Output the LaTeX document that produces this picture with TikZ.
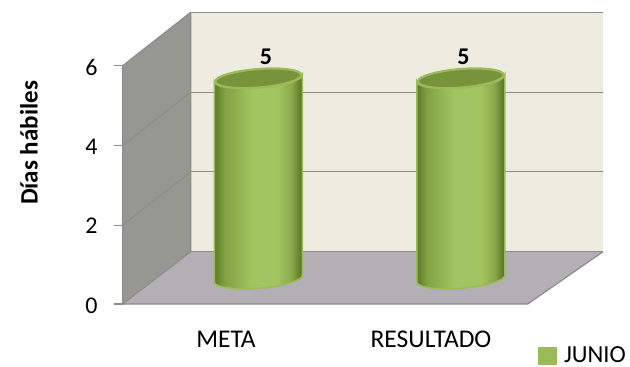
\documentclass[tikz,border=0pt]{standalone}
\usepackage{fontspec}
\setmainfont{Carlito}
\definecolor{backwall}{HTML}{EEECE1}
\definecolor{sidewall}{HTML}{979791}
\definecolor{floorc}{HTML}{B3AFB5}
\definecolor{gridc}{HTML}{8C8C8C}
\definecolor{cylline}{HTML}{9BBB59}
\definecolor{cyltop}{HTML}{77933C}
\definecolor{gA}{HTML}{5E7C2A}
\definecolor{gB}{HTML}{82A244}
\definecolor{gC}{HTML}{A3C561}
\definecolor{gD}{HTML}{8AA84A}
\definecolor{gE}{HTML}{566F26}
\pgfdeclarehorizontalshading{cylshade}{100bp}{
  color(0bp)=(gA); color(25bp)=(gA); color(31bp)=(gB); color(47bp)=(gC); color(61bp)=(gC);
  color(69bp)=(gD); color(75bp)=(gE); color(100bp)=(gE)}
\tikzset{
  wall/.style={draw=gridc, line width=1.2pt, line join=round},
  gridline/.style={draw=gridc, line width=1.1pt},
  tick/.style={draw=gridc, line width=1.1pt},
  axlabel/.style={font=\fontsize{24}{26}\selectfont, text=black, inner sep=0pt},
  catlabel/.style={font=\fontsize{25.5}{28}\selectfont, text=black, inner sep=0pt},
  vallabel/.style={font=\fontsize{24}{26}\selectfont\bfseries, text=black, inner sep=0pt},
  cylbody/.style={shading=cylshade, draw=cylline, line width=1.6pt},
  cyltopface/.style={fill=cyltop, draw=cylline, line width=2.2pt},
}
\begin{document}
\begin{tikzpicture}[x=1pt,y=-1pt]
\useasboundingbox (0,0) rectangle (630,367);
% back wall
\path[fill=backwall] (190.7,12.3) rectangle (603,251.7);
\draw[gridline] (190.7,12.3) -- (603,12.3);
\draw[gridline] (190.7,92.1) -- (603,92.1);
\draw[gridline] (190.7,171.9) -- (603,171.9);
% floor
\coordinate (f1) at (122.7,304);
\coordinate (f2) at (527.7,304);
\coordinate (f3) at (603,251.7);
\coordinate (f4) at (190.7,251.7);
\path[fill=floorc] (f1) -- (f2) -- (f3) -- (f4) -- cycle;
\draw[wall] (f1) -- (f2) -- (f3);
\draw[gridline] (f4) -- (f3);
% side wall
\coordinate (s1) at (122.7,65.7);
\coordinate (s2) at (190.7,12.3);
\coordinate (s3) at (190.7,251.7);
\coordinate (s4) at (122.7,304);
\path[fill=sidewall] (s1) -- (s2) -- (s3) -- (s4) -- cycle;
\draw[wall] (s4) -- (s1) -- (s2) -- (s3);
\draw[gridline] (122.7,145.5) -- (190.7,92.1);
\draw[gridline] (122.7,225.1) -- (190.7,171.9);
\draw[gridline] (s4) -- (s3);
% ticks
\foreach \yy in {65.7,145.5,225.1,304} \draw[tick] (114,\yy) -- (122.7,\yy);
% axis labels
\node[axlabel] (y6) at (91.5,67) {6};
\node[axlabel] (y4) at (91.5,146.5) {4};
\node[axlabel] (y2) at (91.5,226) {2};
\node[axlabel] (y0) at (91.5,305.5) {0};
\node[font=\fontsize{25}{28}\selectfont\bfseries, rotate=90, inner sep=0pt] (ytitle) at (29,143) {Días hábiles};
% cylinders
\foreach \cx/\nm in {258.3/a,460.8/b}{
  \begin{scope}[shift={(\cx,0)}, yslant=0.076]
    \path[cylbody] (-44,78.3) -- (-44,278.8) arc[start angle=180,end angle=0,x radius=44,y radius=9.5]
      -- (44,78.3) arc[start angle=0,end angle=180,x radius=44,y radius=9.5] -- cycle;
    \path[cyltopface] (0,78.3) ellipse[x radius=43,y radius=9.3];
  \end{scope}
}
\node[vallabel] (v1) at (266,57) {5};
\node[vallabel] (v2) at (463.5,57) {5};
% categories
\node[catlabel] (c1) at (226,339) {META};
\node[catlabel] (c2) at (431,339) {RESULTADO};
% legend
\path[fill=cylline] (537.5,347.3) rectangle (556.7,364.7);
\node[catlabel, anchor=east, font=\fontsize{24.5}{27}\selectfont] (leg) at (626,354.5) {JUNIO};
\end{tikzpicture}
\end{document}
